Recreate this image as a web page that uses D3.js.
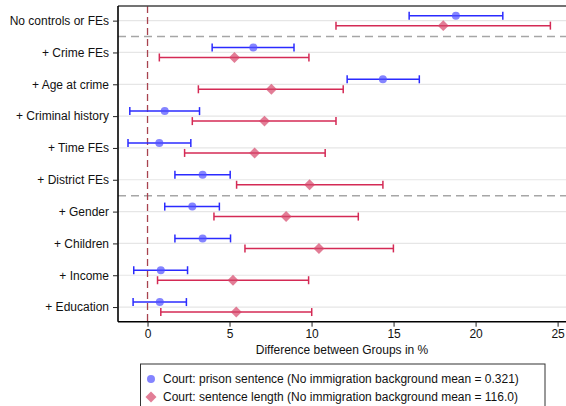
<!DOCTYPE html>
<html>
<head>
<meta charset="utf-8">
<script src="https://cdn.jsdelivr.net/npm/d3@7"></script>
<style>
  body { margin: 0; background: #fff; }
  svg { display: block; font-family: "Liberation Sans", Arial, sans-serif; }
</style>
</head>
<body>
<svg id="chart"></svg>
<script>
// Coefficient plot: immigration background gap across specifications

const categories = [
  'No controls or FEs', '+ Crime FEs', '+ Age at crime', '+ Criminal history',
  '+ Time FEs', '+ District FEs', '+ Gender', '+ Children', '+ Income', '+ Education'
];

// Court: prison sentence (blue)
const prisonEst = [18.8, 6.45, 14.35, 1.05, 0.72, 3.36, 2.73, 3.36, 0.81, 0.75];
const prisonLo  = [15.95, 3.94, 12.17, -1.08, -1.19, 1.67, 1.05, 1.67, -0.84, -0.88];
const prisonHi  = [21.66, 8.93, 16.57, 3.17, 2.64, 5.04, 4.38, 5.06, 2.44, 2.37];

// Court: sentence length (red)
const lengthEst = [18.03, 5.30, 7.55, 7.13, 6.53, 9.88, 8.45, 10.45, 5.21, 5.41];
const lengthLo  = [11.49, 0.72, 3.10, 2.73, 2.26, 5.43, 4.05, 5.94, 0.61, 0.81];
const lengthHi  = [24.56, 9.84, 11.93, 11.49, 10.83, 14.35, 12.85, 14.99, 9.82, 10.01];

const xTicks = [0, 5, 10, 15, 20, 25];
const separatorsAfter = [0, 5];

const legendLabels = [
  'Court: prison sentence (No immigration background mean = 0.321)',
  'Court: sentence length (No immigration background mean = 116.0)'
];

const W = 566, H = 406;
const PLOT = { left: 118, right: 574, top: 6, bottom: 321.7 };

const BLUE = '#2b2bff', BLUE_FILL = 'rgba(80,80,255,0.7)';
const RED = '#d42a55', RED_FILL = 'rgba(214,70,105,0.7)';

const svg = d3.select('#chart').attr('width', W).attr('height', H);

const x = d3.scaleLinear().domain([-1.8, 26]).range([PLOT.left, PLOT.right]);
const y = d3.scalePoint().domain(categories).range([PLOT.top, PLOT.bottom]).padding(0.46);
const OFF = 5;

// horizontal gridlines
svg.append('g').selectAll('line')
  .data(categories).join('line')
  .attr('x1', PLOT.left).attr('x2', W)
  .attr('y1', d => y(d)).attr('y2', d => y(d))
  .attr('stroke', '#e6e6e6').attr('stroke-width', 1.2);

// separators between specification groups
svg.append('g').selectAll('line')
  .data(separatorsAfter).join('line')
  .attr('x1', PLOT.left).attr('x2', W)
  .attr('y1', i => (y(categories[i]) + y(categories[i + 1])) / 2)
  .attr('y2', i => (y(categories[i]) + y(categories[i + 1])) / 2)
  .attr('stroke', '#a6a6a6').attr('stroke-width', 1.5)
  .attr('stroke-dasharray', '8,5');

// zero line
svg.append('line')
  .attr('x1', x(0)).attr('x2', x(0))
  .attr('y1', PLOT.top).attr('y2', PLOT.bottom)
  .attr('stroke', '#a8434f').attr('stroke-width', 1.3)
  .attr('stroke-dasharray', '7,4');

function drawSeries(est, lo, hi, dy, color, fill, shape) {
  const g = svg.append('g');
  const rows = categories.map((c, i) => ({ c, est: est[i], lo: lo[i], hi: hi[i] }));
  g.selectAll('line.ci').data(rows).join('line')
    .attr('x1', d => x(d.lo)).attr('x2', d => x(d.hi))
    .attr('y1', d => y(d.c) + dy).attr('y2', d => y(d.c) + dy)
    .attr('stroke', color).attr('stroke-width', 1.5);
  ['lo', 'hi'].forEach(k => {
    g.selectAll('line.cap-' + k).data(rows).join('line')
      .attr('x1', d => x(d[k])).attr('x2', d => x(d[k]))
      .attr('y1', d => y(d.c) + dy - 4).attr('y2', d => y(d.c) + dy + 4)
      .attr('stroke', color).attr('stroke-width', 1.5);
  });
  g.selectAll('path.pt').data(rows).join('path')
    .attr('d', d3.symbol().type(shape).size(shape === d3.symbolCircle ? 50 : 60))
    .attr('transform', d => `translate(${x(d.est)},${y(d.c) + dy})` + (shape === d3.symbolSquare ? ' rotate(45)' : ''))
    .attr('fill', fill).attr('stroke', 'none');
}

drawSeries(lengthEst, lengthLo, lengthHi, OFF, RED, RED_FILL, d3.symbolSquare);
drawSeries(prisonEst, prisonLo, prisonHi, -OFF, BLUE, BLUE_FILL, d3.symbolCircle);

// frame
svg.append('line').attr('x1', PLOT.left).attr('x2', W).attr('y1', PLOT.top).attr('y2', PLOT.top)
  .attr('stroke', '#444').attr('stroke-width', 1.3);

// axes
const xAxisG = svg.append('g')
  .attr('transform', `translate(0,${PLOT.bottom})`)
  .call(d3.axisBottom(x).tickValues(xTicks).tickSize(5).tickPadding(3));
const yAxisG = svg.append('g')
  .attr('transform', `translate(${PLOT.left},0)`)
  .call(d3.axisLeft(y).tickSize(5).tickPadding(4));

[xAxisG, yAxisG].forEach(a => {
  a.select('.domain').attr('stroke', '#000').attr('stroke-width', 1.6);
  a.selectAll('.tick line').attr('stroke', '#222');
  a.selectAll('.tick text').attr('font-size', 12).attr('fill', '#111')
    .attr('font-family', '"Liberation Sans", Arial, sans-serif');
});
xAxisG.select('.domain').attr('d', `M${PLOT.left},0H${W}`);
yAxisG.select('.domain').attr('d', `M0,${PLOT.top}V${PLOT.bottom}`);

svg.append('text')
  .attr('x', 342).attr('y', 354)
  .attr('text-anchor', 'middle').attr('font-size', 12).attr('fill', '#111')
  .text('Difference between Groups in %');

// legend
const lg = svg.append('g');
lg.append('rect')
  .attr('x', 140.5).attr('y', 364).attr('width', 404.5).attr('height', 50)
  .attr('fill', '#fff').attr('stroke', '#333').attr('stroke-width', 1);
const legendY = [379, 397];
lg.append('path')
  .attr('d', d3.symbol().type(d3.symbolCircle).size(50))
  .attr('transform', `translate(151,${legendY[0]})`).attr('fill', BLUE_FILL);
lg.append('path')
  .attr('d', d3.symbol().type(d3.symbolSquare).size(60))
  .attr('transform', `translate(151,${legendY[1]}) rotate(45)`).attr('fill', RED_FILL);
lg.selectAll('text').data(legendLabels).join('text')
  .attr('x', 163).attr('y', (d, i) => legendY[i])
  .attr('dy', '0.35em').attr('font-size', 12).attr('fill', '#111')
  .text(d => d);
</script>
</body>
</html>
